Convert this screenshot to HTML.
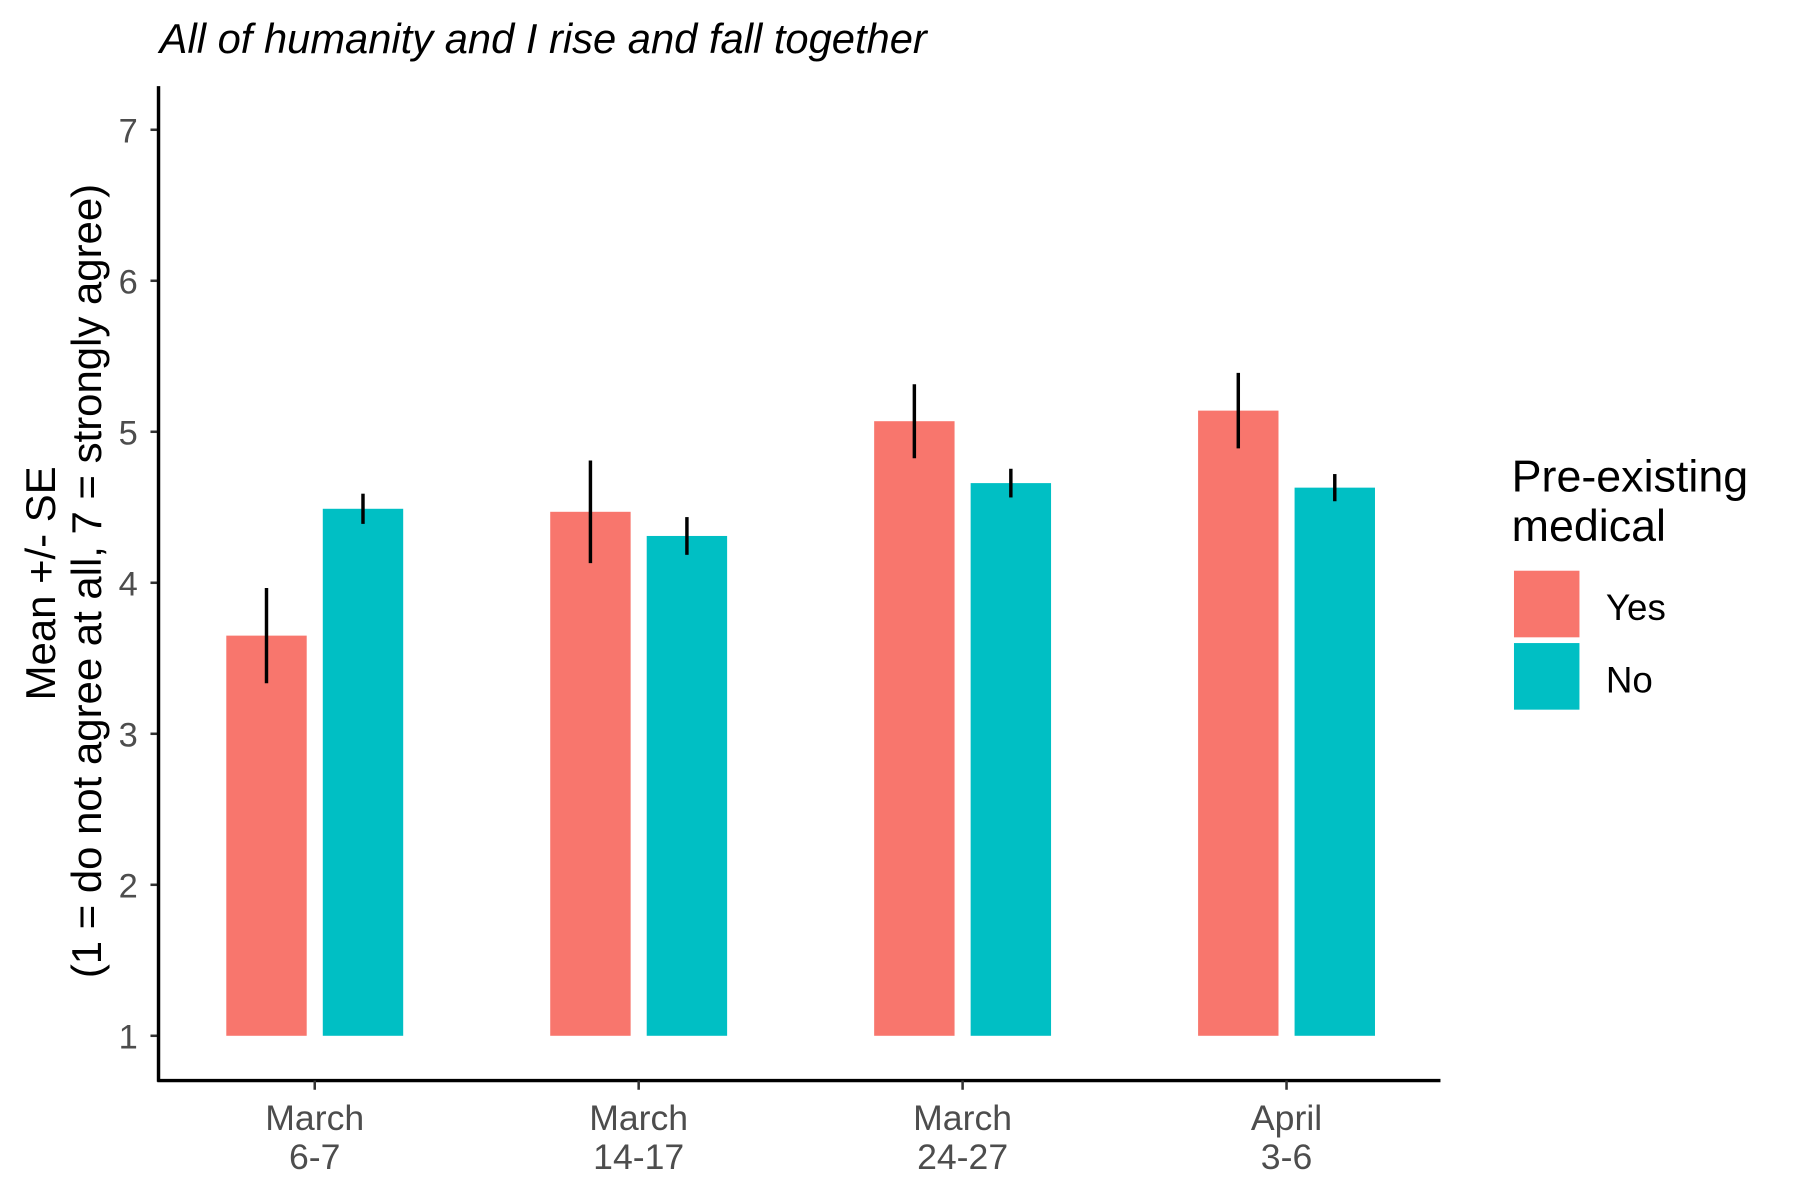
<!DOCTYPE html>
<html><head><meta charset="utf-8"><style>html,body{margin:0;padding:0;background:#fff}svg{display:block}</style></head>
<body>
<svg id="chart" width="1800" height="1200" viewBox="0 0 1567 1045" preserveAspectRatio="none" xmlns="http://www.w3.org/2000/svg" font-family="Liberation Sans, sans-serif">
<text x="139" y="46" font-size="36.3" font-style="italic" fill="#000">All of humanity and I rise and fall together</text>
<g font-size="36.5" fill="#000" text-anchor="middle">
<text transform="translate(48,508) rotate(-90)">Mean +/- SE</text>
<text transform="translate(88,506) rotate(-90)">(1 = do not agree at all, 7 = strongly agree)</text>
</g>
<g id="plot"></g>
<g>
<text x="1316" y="428" font-size="39" fill="#000">Pre-existing</text>
<text x="1316" y="471" font-size="39" fill="#000">medical</text>
<rect x="1318" y="497" width="57" height="58" fill="#F8766D"/>
<rect x="1318" y="560" width="57" height="58" fill="#00BFC4"/>
<text x="1398" y="540" font-size="32" fill="#000">Yes</text>
<text x="1398" y="603" font-size="32" fill="#000">No</text>
</g>
</svg>
<script>
const categories = [["March","6-7"],["March","14-17"],["March","24-27"],["April","3-6"]];
const yesValues = [3.65, 4.47, 5.07, 5.14];
const yesSE = [0.315, 0.34, 0.245, 0.25];
const noValues = [4.49, 4.31, 4.66, 4.63];
const noSE = [0.10, 0.125, 0.095, 0.09];
const yTicks = [1,2,3,4,5,6,7];

const NS = "http://www.w3.org/2000/svg";
const g = document.getElementById('plot');
function yScale(v){ return 902 - (v-1)*131.5; }
function xScale(i){ return 274 + i*282; }
function mk(tag, attrs){ const e=document.createElementNS(NS,tag); for(const k in attrs) e.setAttribute(k,attrs[k]); g.appendChild(e); return e; }

yTicks.forEach(t=>{
  const y=yScale(t);
  const tk=mk('line',{x1:131,x2:138,y1:y,y2:y,stroke:'#333','stroke-width':2.2});
  
  
  const lb=mk('text',{x:120,y:y+11,'font-size':30,fill:'#4d4d4d','text-anchor':'end'});
  lb.textContent=t;
  
  
});

function bars(vals, se, off, color, name){
  vals.forEach((v,i)=>{
    const cx=xScale(i)+off;
    const r=mk('rect',{x:cx-35,y:yScale(v),width:70,height:yScale(1)-yScale(v),fill:color});
    
    
    const e=mk('line',{x1:cx,x2:cx,y1:yScale(v+se[i]),y2:yScale(v-se[i]),stroke:'#000','stroke-width':3});
    
    
  });
}
bars(yesValues, yesSE, -42, '#F8766D', 'yes');
bars(noValues, noSE, 42, '#00BFC4', 'no');

const ya=mk('line',{x1:138,x2:138,y1:75,y2:942,stroke:'#000','stroke-width':3});


const xa=mk('line',{x1:137,x2:1254,y1:941,y2:941,stroke:'#000','stroke-width':3});



categories.forEach((c,i)=>{
  const x=xScale(i);
  const tk=mk('line',{x1:x,x2:x,y1:941,y2:949,stroke:'#333','stroke-width':2.2});
  
  
  c.forEach((s,j)=>{
    const t=mk('text',{x:x,y:984+j*34,'font-size':31,fill:'#4d4d4d','text-anchor':'middle'});
    t.textContent=s;
    
    
  });
});
</script>
</body></html>
